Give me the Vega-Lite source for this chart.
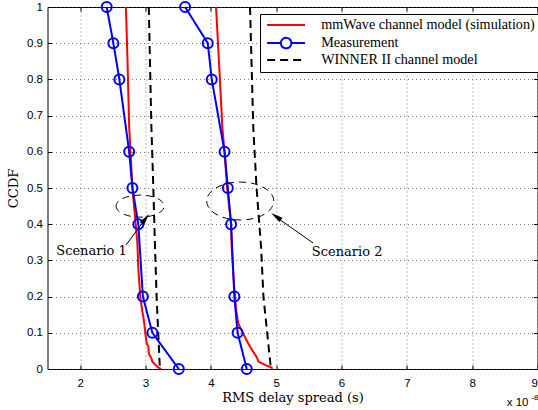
{
  "$schema": "https://vega.github.io/schema/vega-lite/v6.json",
  "width": 490,
  "height": 362,
  "autosize": "none",
  "padding": {"left": 47.5, "top": 7, "right": 0.5, "bottom": 41},
  "background": "white",
  "config": {
    "view": {"stroke": "black", "strokeWidth": 1},
    "axis": {
      "labelFont": "Liberation Sans", "labelFontSize": 11.5, "labelColor": "black",
      "titleFont": "DejaVu Serif", "titleFontSize": 13, "titleFontWeight": "normal", "titleColor": "black",
      "domain": false, "tickColor": "black", "tickSize": -4,
      "gridColor": "#444", "gridDash": [1, 3], "gridOpacity": 0.7, "gridWidth": 1
    },
    "legend": {"orient": "none"}
  },
  "datasets": {
    "curves": [
      {"series": "mmWave channel model (simulation)", "scenario": 1, "x": 2.70, "y": 1},
      {"series": "mmWave channel model (simulation)", "scenario": 1, "x": 2.725, "y": 0.85},
      {"series": "mmWave channel model (simulation)", "scenario": 1, "x": 2.75, "y": 0.67},
      {"series": "mmWave channel model (simulation)", "scenario": 1, "x": 2.80, "y": 0.5},
      {"series": "mmWave channel model (simulation)", "scenario": 1, "x": 2.85, "y": 0.4},
      {"series": "mmWave channel model (simulation)", "scenario": 1, "x": 2.875, "y": 0.35},
      {"series": "mmWave channel model (simulation)", "scenario": 1, "x": 2.89, "y": 0.28},
      {"series": "mmWave channel model (simulation)", "scenario": 1, "x": 2.92, "y": 0.2},
      {"series": "mmWave channel model (simulation)", "scenario": 1, "x": 2.95, "y": 0.16},
      {"series": "mmWave channel model (simulation)", "scenario": 1, "x": 2.967, "y": 0.145},
      {"series": "mmWave channel model (simulation)", "scenario": 1, "x": 2.985, "y": 0.12},
      {"series": "mmWave channel model (simulation)", "scenario": 1, "x": 3.004, "y": 0.089},
      {"series": "mmWave channel model (simulation)", "scenario": 1, "x": 3.02, "y": 0.07},
      {"series": "mmWave channel model (simulation)", "scenario": 1, "x": 3.044, "y": 0.062},
      {"series": "mmWave channel model (simulation)", "scenario": 1, "x": 3.05, "y": 0.045},
      {"series": "mmWave channel model (simulation)", "scenario": 1, "x": 3.06, "y": 0.039},
      {"series": "mmWave channel model (simulation)", "scenario": 1, "x": 3.09, "y": 0.03},
      {"series": "mmWave channel model (simulation)", "scenario": 1, "x": 3.105, "y": 0.02},
      {"series": "mmWave channel model (simulation)", "scenario": 1, "x": 3.15, "y": 0.012},
      {"series": "mmWave channel model (simulation)", "scenario": 1, "x": 3.197, "y": 0.004},
      {"series": "mmWave channel model (simulation)", "scenario": 1, "x": 3.24, "y": 0},
      {"series": "mmWave channel model (simulation)", "scenario": 2, "x": 4.08, "y": 1},
      {"series": "mmWave channel model (simulation)", "scenario": 2, "x": 4.13, "y": 0.83},
      {"series": "mmWave channel model (simulation)", "scenario": 2, "x": 4.177, "y": 0.665},
      {"series": "mmWave channel model (simulation)", "scenario": 2, "x": 4.21, "y": 0.6},
      {"series": "mmWave channel model (simulation)", "scenario": 2, "x": 4.25, "y": 0.5},
      {"series": "mmWave channel model (simulation)", "scenario": 2, "x": 4.31, "y": 0.4},
      {"series": "mmWave channel model (simulation)", "scenario": 2, "x": 4.32, "y": 0.333},
      {"series": "mmWave channel model (simulation)", "scenario": 2, "x": 4.345, "y": 0.26},
      {"series": "mmWave channel model (simulation)", "scenario": 2, "x": 4.37, "y": 0.2},
      {"series": "mmWave channel model (simulation)", "scenario": 2, "x": 4.39, "y": 0.16},
      {"series": "mmWave channel model (simulation)", "scenario": 2, "x": 4.42, "y": 0.126},
      {"series": "mmWave channel model (simulation)", "scenario": 2, "x": 4.46, "y": 0.11},
      {"series": "mmWave channel model (simulation)", "scenario": 2, "x": 4.52, "y": 0.089},
      {"series": "mmWave channel model (simulation)", "scenario": 2, "x": 4.56, "y": 0.075},
      {"series": "mmWave channel model (simulation)", "scenario": 2, "x": 4.60, "y": 0.062},
      {"series": "mmWave channel model (simulation)", "scenario": 2, "x": 4.64, "y": 0.05},
      {"series": "mmWave channel model (simulation)", "scenario": 2, "x": 4.68, "y": 0.039},
      {"series": "mmWave channel model (simulation)", "scenario": 2, "x": 4.71, "y": 0.03},
      {"series": "mmWave channel model (simulation)", "scenario": 2, "x": 4.73, "y": 0.02},
      {"series": "mmWave channel model (simulation)", "scenario": 2, "x": 4.85, "y": 0.01},
      {"series": "mmWave channel model (simulation)", "scenario": 2, "x": 4.93, "y": 0.004},
      {"series": "mmWave channel model (simulation)", "scenario": 2, "x": 4.94, "y": 0},
      {"series": "Measurement", "scenario": 1, "x": 2.406, "y": 1},
      {"series": "Measurement", "scenario": 1, "x": 2.508, "y": 0.9},
      {"series": "Measurement", "scenario": 1, "x": 2.60, "y": 0.8},
      {"series": "Measurement", "scenario": 1, "x": 2.75, "y": 0.6},
      {"series": "Measurement", "scenario": 1, "x": 2.80, "y": 0.5},
      {"series": "Measurement", "scenario": 1, "x": 2.89, "y": 0.4},
      {"series": "Measurement", "scenario": 1, "x": 2.96, "y": 0.2},
      {"series": "Measurement", "scenario": 1, "x": 3.105, "y": 0.1},
      {"series": "Measurement", "scenario": 1, "x": 3.51, "y": 0},
      {"series": "Measurement", "scenario": 2, "x": 3.606, "y": 1},
      {"series": "Measurement", "scenario": 2, "x": 3.953, "y": 0.9},
      {"series": "Measurement", "scenario": 2, "x": 4.014, "y": 0.8},
      {"series": "Measurement", "scenario": 2, "x": 4.21, "y": 0.6},
      {"series": "Measurement", "scenario": 2, "x": 4.26, "y": 0.5},
      {"series": "Measurement", "scenario": 2, "x": 4.31, "y": 0.4},
      {"series": "Measurement", "scenario": 2, "x": 4.36, "y": 0.2},
      {"series": "Measurement", "scenario": 2, "x": 4.41, "y": 0.1},
      {"series": "Measurement", "scenario": 2, "x": 4.55, "y": 0},
      {"series": "WINNER II channel model", "scenario": 1, "x": 3.05, "y": 1},
      {"series": "WINNER II channel model", "scenario": 1, "x": 3.09, "y": 0.67},
      {"series": "WINNER II channel model", "scenario": 1, "x": 3.12, "y": 0.5},
      {"series": "WINNER II channel model", "scenario": 1, "x": 3.145, "y": 0.34},
      {"series": "WINNER II channel model", "scenario": 1, "x": 3.17, "y": 0.2},
      {"series": "WINNER II channel model", "scenario": 1, "x": 3.22, "y": 0},
      {"series": "WINNER II channel model", "scenario": 2, "x": 4.60, "y": 1},
      {"series": "WINNER II channel model", "scenario": 2, "x": 4.65, "y": 0.665},
      {"series": "WINNER II channel model", "scenario": 2, "x": 4.70, "y": 0.5},
      {"series": "WINNER II channel model", "scenario": 2, "x": 4.77, "y": 0.334},
      {"series": "WINNER II channel model", "scenario": 2, "x": 4.805, "y": 0.2},
      {"series": "WINNER II channel model", "scenario": 2, "x": 4.92, "y": 0}
    ]
  },
  "resolve": {"axis": {"x": "independent", "y": "independent"}},
  "layer": [
    {
      "data": {"name": "curves"},
      "mark": {"type": "line", "strokeWidth": 2},
      "encoding": {
        "x": {"field": "x", "type": "quantitative", "scale": {"domain": [1.5, 9], "nice": false, "zero": false},
              "axis": {"values": [2, 3, 4, 5, 6, 7, 8, 9], "grid": true, "title": "RMS delay spread (s)", "labelPadding": 12, "titlePadding": 3}},
        "y": {"field": "y", "type": "quantitative", "scale": {"domain": [0, 1], "nice": false},
              "axis": {"values": [0, 0.1, 0.2, 0.3, 0.4, 0.5, 0.6, 0.7, 0.8, 0.9, 1], "format": "~g", "grid": true, "title": "CCDF", "labelPadding": 9, "titlePadding": 6}},
        "color": {"field": "series", "type": "nominal",
                  "scale": {"domain": ["mmWave channel model (simulation)", "Measurement", "WINNER II channel model"], "range": ["#ff0000", "#0000ff", "#000000"]},
                  "legend": {"title": null, "legendX": 212.5, "legendY": 7, "fillColor": "white", "strokeColor": "black",
                             "padding": 4, "labelFont": "Liberation Serif", "labelFontSize": 14.2, "labelColor": "black", "labelLimit": 0,
                             "symbolSize": 100, "symbolStrokeWidth": 2, "rowPadding": 0, "labelOffset": 28, "symbolOffset": 15,
                             "encode": {"symbols": {"update": {"shape": {"signal": "datum.value === 'Measurement' ? 'M-3.8,0L-1.05,0M1.05,0L3.8,0M-1.05,0A1.05,1.05 0 1,0 1.05,0A1.05,1.05 0 1,0 -1.05,0' : 'M-3.8,0L3.8,0'"}, "fill": {"value": "transparent"}}}}}},
        "strokeDash": {"field": "series", "type": "nominal",
                  "scale": {"domain": ["mmWave channel model (simulation)", "Measurement", "WINNER II channel model"], "range": [[1, 0], [1, 0], [8, 5]]},
                  "legend": {"title": null}},
        "detail": {"field": "scenario"},
        "order": {"field": "y", "sort": "descending"}
      }
    },
    {
      "data": {"name": "curves"},
      "transform": [{"filter": "datum.series === 'Measurement'"}],
      "mark": {"type": "point", "filled": false, "size": 100, "strokeWidth": 2, "opacity": 1},
      "encoding": {
        "x": {"field": "x", "type": "quantitative", "axis": null},
        "y": {"field": "y", "type": "quantitative", "axis": null},
        "color": {"field": "series", "type": "nominal"}
      }
    },
    {
      "data": {"values": [{"x": 2, "y": 0}]},
      "mark": {"type": "point", "opacity": 0},
      "encoding": {
        "x": {"field": "x", "type": "quantitative", "axis": {"orient": "top", "values": [2, 3, 4, 5, 6, 7, 8, 9], "labels": false, "grid": false, "title": null}},
        "y": {"field": "y", "type": "quantitative", "axis": {"orient": "right", "values": [0, 0.1, 0.2, 0.3, 0.4, 0.5, 0.6, 0.7, 0.8, 0.9, 1], "labels": false, "grid": false, "title": null}}
      }
    },
    {
      "data": {"values": [{"x": 2.917, "y": 0.45}]},
      "mark": {"type": "point", "shape": "M-1,0A1,0.46 0 1,0 1,0A1,0.46 0 1,0 -1,0", "size": 2304, "stroke": "black", "strokeWidth": 1, "strokeDash": [7, 5], "filled": false, "opacity": 1},
      "encoding": {"x": {"field": "x", "type": "quantitative", "axis": null}, "y": {"field": "y", "type": "quantitative", "axis": null}}
    },
    {
      "data": {"values": [{"x": 4.45, "y": 0.464}]},
      "mark": {"type": "point", "shape": "M-1,0A1,0.567 0 1,0 1,0A1,0.567 0 1,0 -1,0", "size": 4489, "stroke": "black", "strokeWidth": 1, "strokeDash": [7, 5], "filled": false, "opacity": 1},
      "encoding": {"x": {"field": "x", "type": "quantitative", "axis": null}, "y": {"field": "y", "type": "quantitative", "axis": null}}
    },
    {
      "data": {"values": [{"x": 2.702, "y": 0.3425, "x2": 3.0, "y2": 0.415}, {"x": 5.566, "y": 0.348, "x2": 4.99, "y2": 0.421}]},
      "mark": {"type": "rule", "color": "black", "strokeWidth": 1},
      "encoding": {"x": {"field": "x", "type": "quantitative", "axis": null}, "y": {"field": "y", "type": "quantitative", "axis": null},
                   "x2": {"field": "x2"}, "y2": {"field": "y2"}}
    },
    {
      "data": {"values": [{"x": 2.999, "y": 0.415}]},
      "mark": {"type": "point", "shape": "M0,-1L0.45,1L-0.45,1Z", "size": 144, "angle": 37.5, "filled": true, "color": "black", "opacity": 1},
      "encoding": {"x": {"field": "x", "type": "quantitative", "axis": null}, "y": {"field": "y", "type": "quantitative", "axis": null}}
    },
    {
      "data": {"values": [{"x": 4.998, "y": 0.4215}]},
      "mark": {"type": "point", "shape": "M0,-1L0.45,1L-0.45,1Z", "size": 144, "angle": 305, "filled": true, "color": "black", "opacity": 1},
      "encoding": {"x": {"field": "x", "type": "quantitative", "axis": null}, "y": {"field": "y", "type": "quantitative", "axis": null}}
    },
    {
      "data": {"values": [{"x": 2.174, "y": 0.326, "label": "Scenario 1"}, {"x": 6.086, "y": 0.324, "label": "Scenario 2"}]},
      "mark": {"type": "text", "font": "DejaVu Serif", "fontSize": 13, "color": "black", "align": "center", "baseline": "middle"},
      "encoding": {"x": {"field": "x", "type": "quantitative", "axis": null}, "y": {"field": "y", "type": "quantitative", "axis": null},
                   "text": {"field": "label"}}
    },
    {
      "data": {"values": [{"x": 9, "y": 0, "label": "x 10"}]},
      "mark": {"type": "text", "font": "Liberation Sans", "fontSize": 11.5, "color": "black", "align": "right", "baseline": "alphabetic", "dx": -9, "dy": 37},
      "encoding": {"x": {"field": "x", "type": "quantitative", "axis": null}, "y": {"field": "y", "type": "quantitative", "axis": null},
                   "text": {"field": "label"}}
    },
    {
      "data": {"values": [{"x": 9, "y": 0, "label": "-8"}]},
      "mark": {"type": "text", "font": "Liberation Sans", "fontSize": 8, "color": "black", "align": "right", "baseline": "alphabetic", "dx": 1, "dy": 31},
      "encoding": {"x": {"field": "x", "type": "quantitative", "axis": null}, "y": {"field": "y", "type": "quantitative", "axis": null},
                   "text": {"field": "label"}}
    }
  ]
}
